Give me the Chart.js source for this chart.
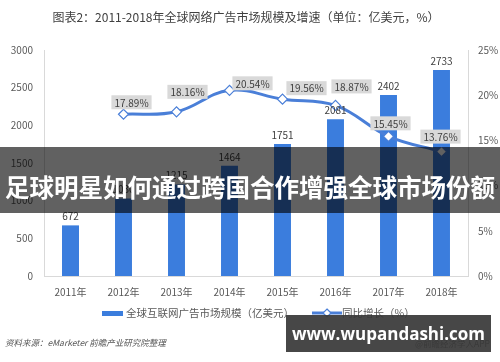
<!DOCTYPE html>
<html><head><meta charset="utf-8">
<script src="https://cdn.jsdelivr.net/npm/chart.js@4/dist/chart.umd.min.js"></script>
<style>
html,body{margin:0;padding:0;background:#fff;}
#wrap{position:relative;width:500px;height:362px;overflow:hidden;font-family:"Noto Sans CJK SC","Noto Sans",sans-serif;}
#c{position:absolute;left:0;top:0;}
.abs{position:absolute;white-space:nowrap;}
#title{left:0;width:492px;top:8px;text-align:center;font-size:12px;color:#404040;}
#lg1box{left:102px;top:311px;width:21px;height:5px;background:#3b7ddd;}
#lg1{left:126px;top:305px;font-size:10.5px;color:#595959;}
#lg2{left:342px;top:305px;font-size:10.5px;color:#595959;}
#src{left:5px;top:336px;font-size:8.5px;color:#555;font-style:italic;}
#src2{left:415px;top:337px;font-size:8.5px;color:#555;}
#banner{left:0;top:147px;width:500px;height:66px;background:rgba(0,0,0,0.62);}
#bannerText{left:0;top:170px;width:500px;text-align:center;font-size:24.5px;line-height:34px;font-weight:700;color:#fff;}
#wm{left:286px;top:315px;width:205px;height:37px;background:rgba(55,55,55,0.92);}
#wmText{left:286px;top:315px;width:205px;line-height:37px;text-align:center;font-family:"Open Sans","DejaVu Sans",sans-serif;font-weight:700;font-size:17px;color:#fff;}
</style></head>
<body><div id="wrap">
<canvas id="c" width="500" height="362"></canvas>
<div class="abs" id="title">图表2：2011-2018年全球网络广告市场规模及增速（单位：亿美元，%）</div>
<div class="abs" id="lg1box"></div>
<div class="abs" id="lg1">全球互联网广告市场规模（亿美元）</div>
<canvas class="abs" id="lg2c" width="30" height="12" style="left:312px;top:307px;"></canvas>
<div class="abs" id="lg2">同比增长（%）</div>
<div class="abs" id="src">资料来源：eMarketer 前瞻产业研究院整理</div>
<div class="abs" id="src2">@前瞻经济学人APP</div>
<div class="abs" id="banner"></div>
<div class="abs" id="bannerText">足球明星如何通过跨国合作增强全球市场份额</div>
<div class="abs" id="wm"></div>
<div class="abs" id="wmText">www.wupandashi.com</div>
</div>
<script>
const years = ['2011年','2012年','2013年','2014年','2015年','2016年','2017年','2018年'];
const marketSize = [672, 1030, 1215, 1464, 1751, 2081, 2402, 2733];
const growthRate = [null, 17.89, 18.16, 20.54, 19.56, 18.87, 15.45, 13.76];
const leftTicks = [0, 500, 1000, 1500, 2000, 2500, 3000];
const rightTicks = [0, 5, 10, 15, 20, 25];

const BAR = '#3b7ddd';
const LINE = '#4a7fd8';
// label placement offsets (style only)
const lineLabelOffset = [[0,0],[8,-12],[11,-20],[23,-7],[24,-11],[16,-19],[2,-13],[-1,-15]];

(function(){
  const c = document.getElementById('lg2c').getContext('2d');
  c.strokeStyle = LINE; c.lineWidth = 3;
  c.beginPath(); c.moveTo(0,6); c.lineTo(30,6); c.stroke();
  c.fillStyle = '#fff'; c.lineWidth = 1.2;
  c.beginPath(); c.moveTo(15,2); c.lineTo(19,6); c.lineTo(15,10); c.lineTo(11,6); c.closePath(); c.fill(); c.stroke();
})();

const labelPlugin = {
  id: 'labels',
  afterDatasetsDraw(chart) {
    const ctx = chart.ctx;
    ctx.save();
    ctx.font = '10px "Noto Sans CJK SC", sans-serif';
    ctx.textAlign = 'center';
    ctx.textBaseline = 'middle';
    const bm = chart.getDatasetMeta(1);
    bm.data.forEach((el, i) => {
      ctx.fillStyle = '#404040';
      ctx.fillText(String(marketSize[i]), el.x, el.y - 9);
    });
    const lm = chart.getDatasetMeta(0);
    lm.data.forEach((el, i) => {
      if (growthRate[i] == null) return;
      const t = growthRate[i].toFixed(2) + '%';
      const w = ctx.measureText(t).width + 6;
      const h = 14;
      const cx = el.x + lineLabelOffset[i][0];
      const cy = el.y + lineLabelOffset[i][1];
      ctx.fillStyle = '#d9d9d9';
      ctx.fillRect(cx - w/2, cy - h/2, w, h);
      ctx.fillStyle = '#404040';
      ctx.fillText(t, cx, cy + 0.5);
    });
    ctx.restore();
  }
};

new Chart(document.getElementById('c'), {
  type: 'bar',
  data: {
    labels: years,
    datasets: [
      {
        type: 'line', label: '同比增长（%）', data: growthRate, yAxisID: 'y1',
        borderColor: LINE, borderWidth: 3, tension: 0.4, spanGaps: true,
        pointStyle: 'rectRot', pointRadius: 5, pointBackgroundColor: '#fff',
        pointBorderColor: LINE, pointBorderWidth: 1.2, order: 0
      },
      {
        type: 'bar', label: '全球互联网广告市场规模（亿美元）', data: marketSize, yAxisID: 'y',
        backgroundColor: BAR, barPercentage: 0.32, categoryPercentage: 1, order: 1
      }
    ]
  },
  options: {
    responsive: false, animation: false,
    layout: { padding: { top: 50, bottom: 56, left: 0, right: 0 } },
    plugins: { legend: { display: false }, title: { display: false }, tooltip: { enabled: false } },
    scales: {
      x: {
        grid: { display: false, drawTicks: false },
        border: { color: '#d9d9d9' },
        ticks: { color: '#595959', font: { size: 10, family: '"Noto Sans CJK SC", sans-serif' }, padding: 10 },
        afterFit(s) { s.height = 30; }
      },
      y: {
        position: 'left', min: 0, max: 3000,
        afterBuildTicks(s) { s.ticks = leftTicks.map(v => ({ value: v })); },
        grid: { display: false, drawTicks: false },
        border: { color: '#d9d9d9' },
        ticks: { color: '#595959', font: { size: 10, family: '"Noto Sans CJK SC", sans-serif' }, padding: 11, callback: v => String(v) },
        afterFit(s) { s.width = 44; }
      },
      y1: {
        position: 'right', min: 0, max: 25,
        afterBuildTicks(s) { s.ticks = rightTicks.map(v => ({ value: v })); },
        grid: { display: false, drawTicks: false },
        border: { color: '#d9d9d9' },
        ticks: { color: '#595959', font: { size: 10, family: '"Noto Sans CJK SC", sans-serif' }, padding: 10, callback: v => v + '%' },
        afterFit(s) { s.width = 32; }
      }
    }
  },
  plugins: [labelPlugin]
});
</script>
</body></html>
